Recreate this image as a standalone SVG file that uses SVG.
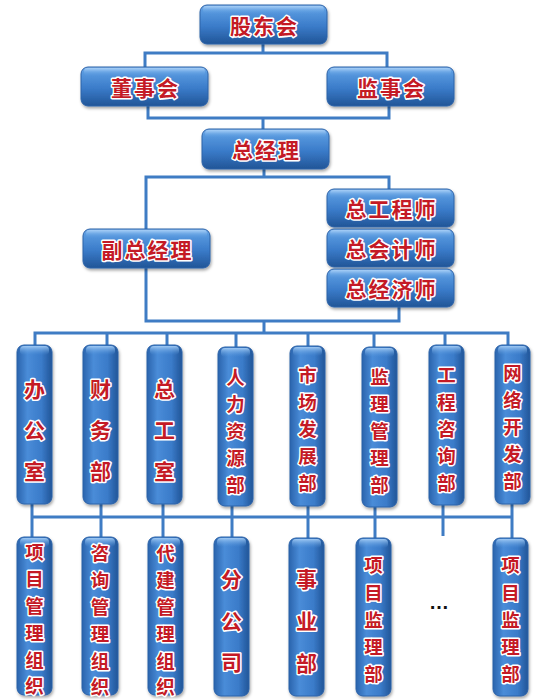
<svg xmlns="http://www.w3.org/2000/svg" width="550" height="700" viewBox="0 0 550 700">
<defs>
<linearGradient id="gh" x1="0" y1="0" x2="0" y2="1">
<stop offset="0" stop-color="#8dbdf0"/>
<stop offset="0.12" stop-color="#5a9be0"/>
<stop offset="0.55" stop-color="#3a7bc9"/>
<stop offset="1" stop-color="#215597"/>
</linearGradient>
<linearGradient id="gv" x1="0" y1="0" x2="1" y2="0">
<stop offset="0" stop-color="#2a64ad"/>
<stop offset="0.3" stop-color="#4a8cd8"/>
<stop offset="0.7" stop-color="#3a7bc9"/>
<stop offset="1" stop-color="#225598"/>
</linearGradient>
<linearGradient id="gt" x1="0" y1="0" x2="0" y2="1">
<stop offset="0" stop-color="#a9d0f7" stop-opacity="0.9"/>
<stop offset="1" stop-color="#5a9be0" stop-opacity="0"/>
</linearGradient>
<filter id="sh" x="-20%" y="-20%" width="140%" height="140%">
<feDropShadow dx="1" dy="2" stdDeviation="1.5" flood-color="#000" flood-opacity="0.35"/>
</filter>
</defs>
<style>
.bh{fill:url(#gh);stroke:#2c62a8;stroke-width:1;filter:url(#sh)}
.bv{fill:url(#gv);stroke:#2c62a8;stroke-width:1;filter:url(#sh)}
.hl{fill:url(#gt)}
.t{font-family:"Noto Sans CJK SC","Noto Sans CJK TC",sans-serif;font-weight:bold;font-size:21px;fill:#c41a25;stroke:#ffffff;stroke-width:3px;paint-order:stroke;stroke-linejoin:round;text-anchor:middle;dominant-baseline:central}
.th{letter-spacing:2px}
.s{font-size:18.5px}
.ln{fill:none;stroke:#3f7cc4;stroke-width:3;stroke-linejoin:miter}
</style>
<g id="connectors">
<path class="ln" d="M263,44 V53 M145,67 V53 H387 V67"/>
<path class="ln" d="M148,106 V118 H389 V106 M263,118 V129"/>
<path class="ln" d="M264,169 V177 M146,229 V177 H389 V189"/>
<path class="ln" d="M146,268 V321 H399 V307 M264,321 V333"/>
<path class="ln" d="M35,345 V333 H508 V345 M107,333 V345 M167,333 V345 M236,333 V347 M308,333 V346 M374,333 V347 M445,333 V345"/>
<path class="ln" d="M32,504 V537 M32,517 H512 M101,504 V537 M163,504 V537 M232,506 V537 M308,506 V538 M375,507 V538 M443,505 V536 M512,504 V538"/>
</g>
<g id="gudonghui"><rect class="bh" x="200" y="5" width="127" height="39" rx="7"/><rect class="hl" x="203" y="6" width="121" height="8" rx="4"/><text class="t th" x="264.5" y="24.5">股东会</text></g>
<g id="dongshihui"><rect class="bh" x="81" y="67" width="127" height="39" rx="7"/><rect class="hl" x="84" y="68" width="121" height="8" rx="4"/><text class="t th" x="145.5" y="86.5">董事会</text></g>
<g id="jianshihui"><rect class="bh" x="327" y="67" width="127" height="39" rx="7"/><rect class="hl" x="330" y="68" width="121" height="8" rx="4"/><text class="t th" x="391.5" y="86.5">监事会</text></g>
<g id="zongjingli"><rect class="bh" x="202" y="129" width="127" height="40" rx="7"/><rect class="hl" x="205" y="130" width="121" height="8" rx="4"/><text class="t th" x="266.5" y="149">总经理</text></g>
<g id="fuzongjingli"><rect class="bh" x="83" y="229" width="127" height="39" rx="7"/><rect class="hl" x="86" y="230" width="121" height="8" rx="4"/><text class="t th" x="147.5" y="248.5">副总经理</text></g>
<g id="zonggongchengshi"><rect class="bh" x="327" y="189" width="127" height="38" rx="7"/><rect class="hl" x="330" y="190" width="121" height="8" rx="4"/><text class="t th" x="391.5" y="208">总工程师</text></g>
<g id="zongkuaijishi"><rect class="bh" x="327" y="229" width="127" height="38" rx="7"/><rect class="hl" x="330" y="230" width="121" height="8" rx="4"/><text class="t th" x="391.5" y="248">总会计师</text></g>
<g id="zongjingjishi"><rect class="bh" x="327" y="269" width="127" height="38" rx="7"/><rect class="hl" x="330" y="270" width="121" height="8" rx="4"/><text class="t th" x="391.5" y="288">总经济师</text></g>

<g id="bangongshi"><rect class="bv" x="17" y="345" width="35" height="159" rx="7"/><rect class="hl" x="20" y="346" width="29" height="9" rx="4"/><text class="t"><tspan x="34.5" y="388">办</tspan><tspan x="34.5" y="429">公</tspan><tspan x="34.5" y="470">室</tspan></text></g>
<g id="caiwubu"><rect class="bv" x="83" y="345" width="35" height="159" rx="7"/><rect class="hl" x="86" y="346" width="29" height="9" rx="4"/><text class="t"><tspan x="100.5" y="388">财</tspan><tspan x="100.5" y="429">务</tspan><tspan x="100.5" y="470">部</tspan></text></g>
<g id="zonggongshi"><rect class="bv" x="147" y="345" width="35" height="159" rx="7"/><rect class="hl" x="150" y="346" width="29" height="9" rx="4"/><text class="t"><tspan x="164.5" y="388">总</tspan><tspan x="164.5" y="429">工</tspan><tspan x="164.5" y="470">室</tspan></text></g>
<g id="renliziyuanbu"><rect class="bv" x="218" y="347" width="35" height="159" rx="7"/><rect class="hl" x="221" y="348" width="29" height="9" rx="4"/><text class="t s"><tspan x="235.5" y="376">人</tspan><tspan x="235.5" y="403">力</tspan><tspan x="235.5" y="430">资</tspan><tspan x="235.5" y="457">源</tspan><tspan x="235.5" y="484">部</tspan></text></g>
<g id="shichangfazhanbu"><rect class="bv" x="290" y="346" width="35" height="160" rx="7"/><rect class="hl" x="293" y="347" width="29" height="9" rx="4"/><text class="t s"><tspan x="307.5" y="374">市</tspan><tspan x="307.5" y="401">场</tspan><tspan x="307.5" y="428">发</tspan><tspan x="307.5" y="455">展</tspan><tspan x="307.5" y="482">部</tspan></text></g>
<g id="jianliguanlibu"><rect class="bv" x="362" y="347" width="35" height="160" rx="7"/><rect class="hl" x="365" y="348" width="29" height="9" rx="4"/><text class="t s"><tspan x="379.5" y="376">监</tspan><tspan x="379.5" y="403">理</tspan><tspan x="379.5" y="430">管</tspan><tspan x="379.5" y="457">理</tspan><tspan x="379.5" y="484">部</tspan></text></g>
<g id="gongchengzixunbu"><rect class="bv" x="429" y="345" width="35" height="160" rx="7"/><rect class="hl" x="432" y="346" width="29" height="9" rx="4"/><text class="t s"><tspan x="446.5" y="374">工</tspan><tspan x="446.5" y="401">程</tspan><tspan x="446.5" y="428">咨</tspan><tspan x="446.5" y="455">询</tspan><tspan x="446.5" y="482">部</tspan></text></g>
<g id="wangluokaifabu"><rect class="bv" x="495" y="345" width="35" height="159" rx="7"/><rect class="hl" x="498" y="346" width="29" height="9" rx="4"/><text class="t s"><tspan x="512.5" y="372">网</tspan><tspan x="512.5" y="399">络</tspan><tspan x="512.5" y="426">开</tspan><tspan x="512.5" y="453">发</tspan><tspan x="512.5" y="480">部</tspan></text></g>

<g id="xiangmuguanlizuzhi"><rect class="bv" x="17" y="537" width="35" height="158" rx="7"/><rect class="hl" x="20" y="538" width="29" height="9" rx="4"/><text class="t s"><tspan x="34.5" y="551">项</tspan><tspan x="34.5" y="578">目</tspan><tspan x="34.5" y="605">管</tspan><tspan x="34.5" y="632">理</tspan><tspan x="34.5" y="659">组</tspan><tspan x="34.5" y="685">织</tspan></text></g>
<g id="zixunguanlizuzhi"><rect class="bv" x="82" y="537" width="36" height="158" rx="7"/><rect class="hl" x="85" y="538" width="30" height="9" rx="4"/><text class="t s"><tspan x="100" y="552">咨</tspan><tspan x="100" y="579">询</tspan><tspan x="100" y="606">管</tspan><tspan x="100" y="633">理</tspan><tspan x="100" y="660">组</tspan><tspan x="100" y="686">织</tspan></text></g>
<g id="daijianguanlizuzhi"><rect class="bv" x="148" y="537" width="35" height="158" rx="7"/><rect class="hl" x="151" y="538" width="29" height="9" rx="4"/><text class="t s"><tspan x="165.5" y="552">代</tspan><tspan x="165.5" y="579">建</tspan><tspan x="165.5" y="606">管</tspan><tspan x="165.5" y="633">理</tspan><tspan x="165.5" y="660">组</tspan><tspan x="165.5" y="686">织</tspan></text></g>
<g id="fengongsi"><rect class="bv" x="214" y="537" width="35" height="159" rx="7"/><rect class="hl" x="217" y="538" width="29" height="9" rx="4"/><text class="t"><tspan x="231.5" y="578">分</tspan><tspan x="231.5" y="620">公</tspan><tspan x="231.5" y="661">司</tspan></text></g>
<g id="shiyebu"><rect class="bv" x="289" y="538" width="35" height="158" rx="7"/><rect class="hl" x="292" y="539" width="29" height="9" rx="4"/><text class="t"><tspan x="306.5" y="578">事</tspan><tspan x="306.5" y="620">业</tspan><tspan x="306.5" y="662">部</tspan></text></g>
<g id="xiangmujianlibu1"><rect class="bv" x="356" y="538" width="35" height="158" rx="7"/><rect class="hl" x="359" y="539" width="29" height="9" rx="4"/><text class="t s"><tspan x="373.5" y="564">项</tspan><tspan x="373.5" y="592">目</tspan><tspan x="373.5" y="619">监</tspan><tspan x="373.5" y="646">理</tspan><tspan x="373.5" y="673">部</tspan></text></g>
<g id="ellipsis"><text x="439" y="609" font-family="Liberation Sans, sans-serif" font-size="20" font-weight="bold" fill="#111" text-anchor="middle">…</text></g>
<g id="xiangmujianlibu2"><rect class="bv" x="493" y="538" width="35" height="158" rx="7"/><rect class="hl" x="496" y="539" width="29" height="9" rx="4"/><text class="t s"><tspan x="510.5" y="564">项</tspan><tspan x="510.5" y="592">目</tspan><tspan x="510.5" y="619">监</tspan><tspan x="510.5" y="646">理</tspan><tspan x="510.5" y="673">部</tspan></text></g>
</svg>
